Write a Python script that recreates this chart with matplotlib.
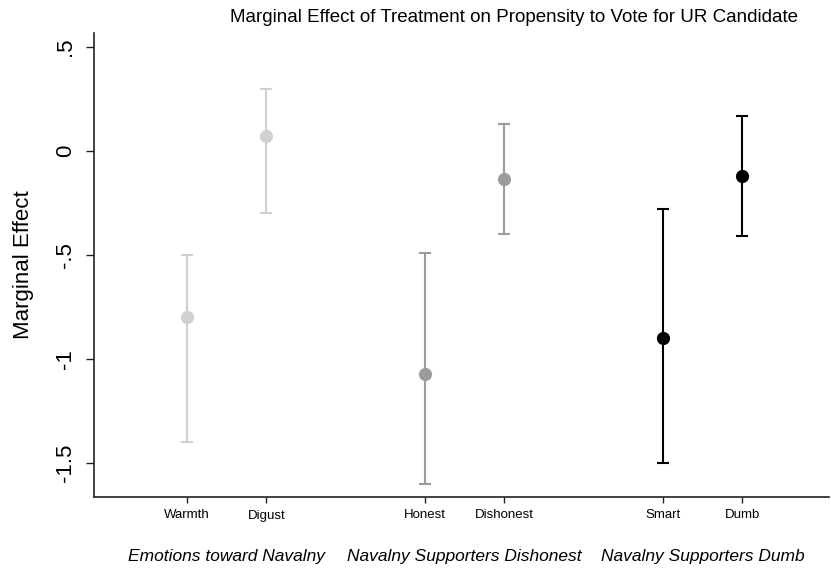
import matplotlib
matplotlib.use("Agg")
import matplotlib.pyplot as plt
import matplotlib.transforms as mtransforms

plt.rcParams['font.family'] = ['Liberation Sans', 'DejaVu Sans']

# Point estimates and 95% confidence bounds
conditions = ["Warmth", "Digust", "Honest", "Dishonest", "Smart", "Dumb"]
positions = [1, 2, 4, 5, 7, 8]
estimates = [-0.80, 0.07, -1.07, -0.135, -0.90, -0.12]
lower = [-1.40, -0.30, -1.60, -0.40, -1.50, -0.41]
upper = [-0.50, 0.30, -0.49, 0.13, -0.28, 0.17]
series_colors = ["#d0d0d0", "#d0d0d0", "#9b9b9b", "#9b9b9b", "#000000", "#000000"]

groups = ["Emotions toward Navalny", "Navalny Supporters Dishonest", "Navalny Supporters Dumb"]
group_centers = [1.5, 4.5, 7.5]

ytick_values = [0.5, 0, -0.5, -1, -1.5]
ytick_labels = [".5", "0", "-.5", "-1", "-1.5"]

W, H = 831, 569
fig = plt.figure(figsize=(W / 100, H / 100), dpi=100)
ax = fig.add_axes([94 / W, 1 - 497 / H, (829 - 94) / W, (497 - 33) / H])

for x, est, lo, hi, c in zip(positions, estimates, lower, upper, series_colors):
    ax.errorbar([x], [est], yerr=[[est - lo], [hi - est]], fmt="o", color=c,
                ecolor=c, elinewidth=1.5, capsize=4, capthick=1.5,
                markersize=8.5, markeredgecolor=c, markerfacecolor=c)

ax.set_xlim(-0.173, 9.096)
ax.set_ylim(-1.663, 0.567)

ax.set_xticks(positions)
ax.set_xticklabels(conditions, fontsize=9.5)
ax.set_yticks(ytick_values)
ax.set_yticklabels(ytick_labels, fontsize=16, rotation=90, va="center")

ax.tick_params(axis="y", length=6, width=1, pad=7, color="#222222")
ax.tick_params(axis="x", length=4, width=1, pad=5, color="#222222")

for side in ("top", "right"):
    ax.spines[side].set_visible(False)
for side in ("left", "bottom"):
    ax.spines[side].set_linewidth(1.2)
    ax.spines[side].set_color("#222222")

ax.set_ylabel("Marginal Effect", fontsize=16, labelpad=15)

# Group captions below the condition labels
trans = mtransforms.blended_transform_factory(ax.transData, fig.transFigure)
for gx, name in zip(group_centers, groups):
    ax.text(gx, 1 - 557 / H, name, transform=trans, ha="center", va="center",
            fontsize=12.5, style="italic")

fig.text(514.5 / W, 1 - 18 / H,
         "Marginal Effect of Treatment on Propensity to Vote for UR Candidate",
         ha="center", va="center", fontsize=13.5)

fig.savefig("out.png", dpi=100)
